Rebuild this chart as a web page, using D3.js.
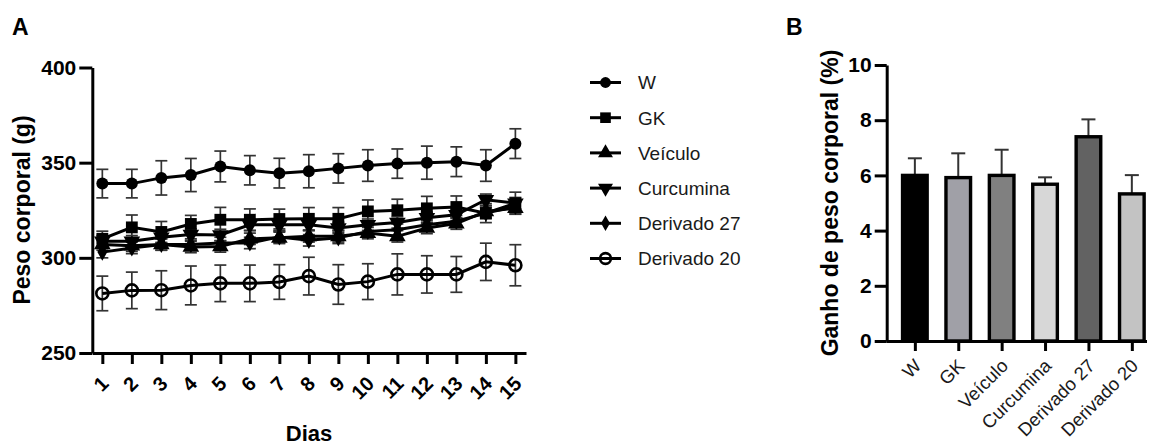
<!DOCTYPE html>
<html>
<head>
<meta charset="utf-8">
<script src="https://cdn.jsdelivr.net/npm/d3@7"></script>
<style>
  body { margin: 0; background: #fff; }
  svg { display: block; font-family: Arial, "Liberation Sans", sans-serif; }
</style>
</head>
<body>
<svg id="chart" width="1154" height="445"></svg>
<script>
// panel A data
const days = [1, 2, 3, 4, 5, 6, 7, 8, 9, 10, 11, 12, 13, 14, 15]
const W = [339, 339, 342, 343.5, 348, 346, 344.5, 345.5, 347, 348.5, 349.5, 350, 350.5, 348.5, 360]
const W_err = [7.5, 7.5, 9, 8.7, 8.1, 7.7, 7.8, 8.7, 7.7, 8.3, 7.7, 8.7, 7.8, 8.3, 7.8]
const GK = [310, 316, 313.6, 317.8, 320, 320, 320.4, 320.5, 320.5, 324.4, 325, 326, 326.7, 323.5, 328.7]
const GK_err = [4, 6.5, 5.5, 4.5, 6.5, 5.7, 5.2, 5.9, 5.9, 6, 5.8, 6.3, 5.8, 5, 5.8]
const Veiculo = [307, 306.4, 307, 305.7, 306, 310, 310.5, 311.3, 311.3, 313, 311.3, 315.7, 318, 324.4, 326.1]
const Veiculo_err = [3, 3, 3, 3, 3, 3, 3, 3, 3, 3, 3, 3, 3, 3, 3]
const Curcumina = [308.7, 308.7, 310.8, 312.2, 312, 317.4, 317.4, 317.4, 315.7, 317.4, 318.6, 321, 322.6, 330.5, 328.7]
const Curcumina_err = [3, 3, 3, 3, 3, 3, 3, 3, 3, 3, 3, 3, 3, 3, 3]
const Derivado27 = [303, 305.2, 307, 307, 307.8, 307.8, 311, 309.2, 310.5, 313.9, 314.8, 317.4, 319.2, 323.5, 327]
const Derivado27_err = [3, 3, 3, 3, 3, 3, 3, 3, 3, 3, 3, 3, 3, 3, 3]
const Derivado20 = [281.3, 282.9, 283, 285.5, 286.6, 286.6, 287.3, 290.4, 286, 287.5, 291.3, 291.3, 291.3, 297.9, 296.1]
const Derivado20_err = [9.1, 9.6, 10.2, 10.2, 9.6, 9.6, 9.1, 9.9, 10.4, 9.4, 10.8, 9.8, 9.4, 9.8, 10.8]
const weightTicks = [250, 300, 350, 400]

// panel B data
const groups = ["W", "GK", "Veículo", "Curcumina", "Derivado 27", "Derivado 20"]
const gain = [6.0, 5.92, 6.0, 5.68, 7.4, 5.33]
const gainErr = [0.62, 0.88, 0.93, 0.25, 0.63, 0.68]
const gainTicks = [0, 2, 4, 6, 8, 10]

const series = [
    { name: "W", values: W, err: W_err, shape: "circle" },
    { name: "GK", values: GK, err: GK_err, shape: "square" },
    { name: "Veículo", values: Veiculo, err: Veiculo_err, shape: "triangle" },
    { name: "Curcumina", values: Curcumina, err: Curcumina_err, shape: "triangleDown" },
    { name: "Derivado 27", values: Derivado27, err: Derivado27_err, shape: "diamond" },
    { name: "Derivado 20", values: Derivado20, err: Derivado20_err, shape: "open" }
]
const barFills = ["#000000", "#a0a0a7", "#808080", "#d7d7d7", "#626262", "#c3c3c3"]

const svg = d3.select("#chart")

function marker(sel, shape, scale) {
    let p
    if (shape === "circle" || shape === "open") {
        p = sel.append("circle").attr("r", 6 * scale)
    } else {
        const type = { square: d3.symbolSquare, triangle: d3.symbolTriangle,
            triangleDown: d3.symbolTriangle, diamond: d3.symbolDiamond }[shape]
        const size = { square: 140, triangle: 120, triangleDown: 120, diamond: 85 }[shape]
        p = sel.append("path").attr("d", d3.symbol(type, size * scale * scale)())
        if (shape === "triangleDown") p.attr("transform", "rotate(180)")
    }
    if (shape === "open") p.attr("fill", "none").attr("stroke", "#000").attr("stroke-width", 2.6)
    else p.attr("fill", "#000")
    return p
}

function styleAxis(g) {
    g.selectAll(".domain").attr("stroke", "#000").attr("stroke-width", 3)
    g.selectAll(".tick line").attr("stroke", "#000").attr("stroke-width", 3)
}

// ---------- panel A ----------
const x = d3.scaleLinear().domain([0.66, 15.36]).range([92.3, 526])
const y = d3.scaleLinear().domain([250, 400]).range([353, 67.5])

const xAxis = svg.append("g")
    .attr("transform", "translate(0,353)")
    .call(d3.axisBottom(x).tickValues(days).tickSize(11).tickSizeOuter(0).tickFormat(""))
styleAxis(xAxis)
xAxis.selectAll(".tick").append("text")
    .attr("transform", "translate(7,32) rotate(-45)")
    .attr("text-anchor", "end")
    .attr("fill", "#000")
    .attr("font-size", 20)
    .attr("font-weight", "bold")
    .text(d => d)

const yAxis = svg.append("g")
    .attr("transform", "translate(92.3,0)")
    .call(d3.axisLeft(y).tickValues(weightTicks).tickSize(13).tickSizeOuter(0).tickPadding(3))
styleAxis(yAxis)
yAxis.selectAll(".tick text").attr("font-size", 21).attr("font-weight", "bold").attr("fill", "#000")
    .attr("font-family", "Arial, 'Liberation Sans', sans-serif")

svg.append("text").attr("x", 309).attr("y", 441).attr("text-anchor", "middle")
    .attr("font-size", 22).attr("font-weight", "bold").text("Dias")
svg.append("text").attr("transform", "translate(30,210) rotate(-90)").attr("text-anchor", "middle")
    .attr("font-size", 23).attr("font-weight", "bold").text("Peso corporal (g)")
svg.append("text").attr("x", 12).attr("y", 35).attr("font-size", 23).attr("font-weight", "bold").text("A")

const line = d3.line().x((d, i) => x(days[i])).y(d => y(d))

// error bars
series.forEach(s => {
    const eg = svg.append("g").attr("stroke", "#333").attr("stroke-width", 1.7).attr("fill", "none")
    s.values.forEach((v, i) => {
        const cx = x(days[i]), top = y(v + s.err[i]), bot = y(v - s.err[i])
        eg.append("line").attr("x1", cx).attr("x2", cx).attr("y1", top).attr("y2", bot)
        eg.append("line").attr("x1", cx - 6).attr("x2", cx + 6).attr("y1", top).attr("y2", top)
        eg.append("line").attr("x1", cx - 6).attr("x2", cx + 6).attr("y1", bot).attr("y2", bot)
    })
})
// lines
series.forEach(s => {
    svg.append("path").datum(s.values).attr("d", line)
        .attr("fill", "none").attr("stroke", "#000").attr("stroke-width", 3)
})
// markers
series.forEach(s => {
    s.values.forEach((v, i) => {
        const g = svg.append("g").attr("transform", `translate(${x(days[i])},${y(v)})`)
        marker(g, s.shape, 1)
    })
})

// legend
const legend = svg.append("g")
series.forEach((s, i) => {
    const g = legend.append("g").attr("transform", `translate(0,${82.5 + i * 35.2})`)
    g.append("line").attr("x1", 590).attr("x2", 621).attr("stroke", "#000").attr("stroke-width", 3)
    marker(g.append("g").attr("transform", "translate(605.5,0)"), s.shape, 0.9)
    g.append("text").attr("x", 638).attr("dy", "0.36em").attr("font-size", 19).attr("fill", "#1a1a1a").text(s.name)
})

// ---------- panel B ----------
const bx = d3.scalePoint().domain(groups).range([886.7, 1160]).padding(0.649)
const by = d3.scaleLinear().domain([0, 10]).range([341, 65])

// error bars (upper only), behind bars
const bErr = svg.append("g").attr("stroke", "#333").attr("stroke-width", 2)
groups.forEach((gname, i) => {
    const cx = bx(gname), top = by(gain[i] + gainErr[i])
    bErr.append("line").attr("x1", cx).attr("x2", cx).attr("y1", by(gain[i])).attr("y2", top)
    bErr.append("line").attr("x1", cx - 7).attr("x2", cx + 7).attr("y1", top).attr("y2", top)
})

svg.append("g").selectAll("rect").data(groups).join("rect")
    .attr("x", d => bx(d) - 12.3)
    .attr("width", 24.6)
    .attr("y", (d, i) => by(gain[i]))
    .attr("height", (d, i) => by(0) - by(gain[i]))
    .attr("fill", (d, i) => barFills[i])
    .attr("stroke", "#000").attr("stroke-width", 3.4)

const bxAxis = svg.append("g")
    .attr("transform", "translate(0,341)")
    .call(d3.axisBottom(bx).tickSize(10).tickSizeOuter(0).tickFormat(""))
bxAxis.select(".domain").attr("d", "M886.7,0.5H1147")
styleAxis(bxAxis)
bxAxis.selectAll(".tick").append("text")
    .attr("transform", "translate(7,26) rotate(-45)")
    .attr("text-anchor", "end")
    .attr("fill", "#1a1a1a")
    .attr("font-size", 18.5)
    .text(d => d)

const byAxis = svg.append("g")
    .attr("transform", "translate(886.7,0)")
    .call(d3.axisLeft(by).tickValues(gainTicks).tickSize(12).tickSizeOuter(0).tickPadding(3))
styleAxis(byAxis)
byAxis.selectAll(".tick text").attr("font-size", 21).attr("font-weight", "bold").attr("fill", "#000")
    .attr("font-family", "Arial, 'Liberation Sans', sans-serif")

svg.append("text").attr("transform", "translate(838,203) rotate(-90)").attr("text-anchor", "middle")
    .attr("font-size", 23).attr("font-weight", "bold").text("Ganho de peso corporal (%)")
svg.append("text").attr("x", 786).attr("y", 35).attr("font-size", 23).attr("font-weight", "bold").text("B")
</script>
</body>
</html>
